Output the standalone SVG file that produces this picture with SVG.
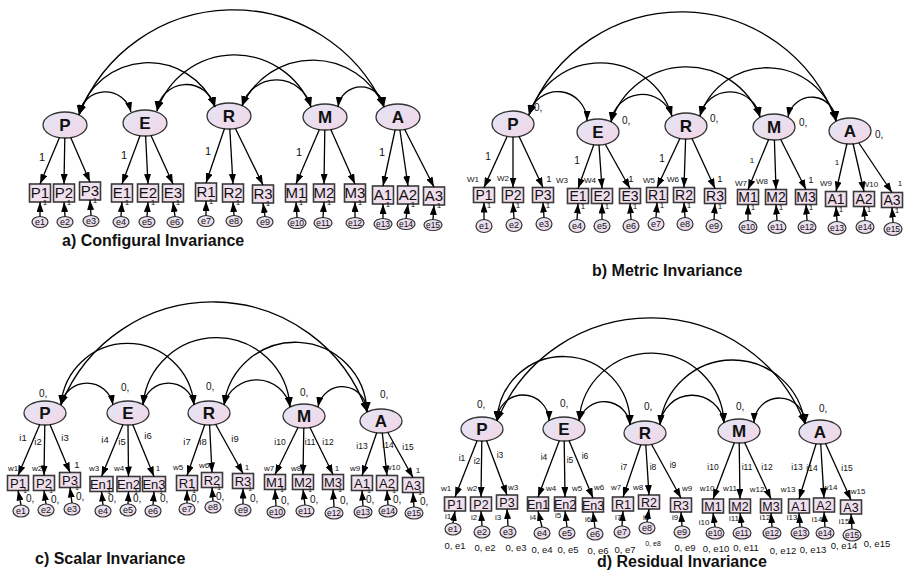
<svg xmlns="http://www.w3.org/2000/svg" width="906" height="570" viewBox="0 0 906 570">
<defs>
<linearGradient id="lg" x1="0" y1="0" x2="1" y2="1"><stop offset="0" stop-color="#e3e6f6"/><stop offset="1" stop-color="#f3d6e6"/></linearGradient>
<linearGradient id="bg" x1="0" y1="0" x2="1" y2="1"><stop offset="0" stop-color="#ebe3f1"/><stop offset="1" stop-color="#f5dcea"/></linearGradient>
<marker id="ah" viewBox="0 0 10 7" refX="10" refY="3.5" markerWidth="10" markerHeight="7" markerUnits="userSpaceOnUse" orient="auto-start-reverse"><path d="M0,0L10,3.5L0,7z" fill="#000"/></marker>
</defs>
<style>
.lat{fill:url(#lg);stroke:#333;stroke-width:1.3}
.box{fill:url(#bg);stroke:#3a3a3a;stroke-width:1.6}
.err{fill:url(#lg);stroke:#333;stroke-width:1.2}
text{font-family:"Liberation Sans",Arial,sans-serif;fill:#111}
.lt{font-size:17px;font-weight:bold;text-anchor:middle}
.ba{font-size:15px;text-anchor:middle}
.bb{font-size:14px;text-anchor:middle}
.bc{font-size:13px;text-anchor:middle}
.bd{font-size:12.5px;text-anchor:middle}
.et{font-size:9px;text-anchor:middle}
.et2{font-size:8.5px;text-anchor:middle}
.s{font-size:8px;text-anchor:middle}
.s7{font-size:7px;text-anchor:middle}
.s6{font-size:6.5px;text-anchor:middle}
.n{font-size:11px;text-anchor:middle}
.n10{font-size:10px;text-anchor:middle}
.i9{font-size:9.5px;text-anchor:middle}
.i8{font-size:8.5px;text-anchor:middle}
.z{font-size:10px}
.oe{font-size:9.5px;text-anchor:middle}
.ttl{font-size:16px;font-weight:bold}
.arc{fill:none;stroke:#000;stroke-width:1.3;marker-start:url(#ah);marker-end:url(#ah)}
.ld{fill:none;stroke:#000;stroke-width:1.3;marker-end:url(#ah)}
</style>

<!-- ================= PANEL A ================= -->
<g id="panel-a">
<g id="a-P"><ellipse class="lat" cx="65" cy="125" rx="22" ry="13"/><text class="lt" x="65" y="131">P</text></g>
<g id="a-E"><ellipse class="lat" cx="145" cy="123" rx="22" ry="13"/><text class="lt" x="145" y="129">E</text></g>
<g id="a-R"><ellipse class="lat" cx="229" cy="116" rx="22" ry="13"/><text class="lt" x="229" y="122">R</text></g>
<g id="a-M"><ellipse class="lat" cx="325" cy="117" rx="22" ry="13"/><text class="lt" x="325" y="123">M</text></g>
<g id="a-A"><ellipse class="lat" cx="398" cy="117" rx="22" ry="13"/><text class="lt" x="398" y="123">A</text></g>

<g id="a-P1"><rect class="box" x="29.5" y="184" width="21" height="18"/><text class="ba" x="40" y="198.4">P1</text></g>
<g id="a-P2"><rect class="box" x="53.5" y="184" width="21" height="18"/><text class="ba" x="64" y="198.4">P2</text></g>
<g id="a-P3"><rect class="box" x="79.5" y="182" width="21" height="18"/><text class="ba" x="90" y="196.4">P3</text></g>
<g id="a-E1"><rect class="box" x="111.5" y="184" width="21" height="18"/><text class="ba" x="122" y="198.4">E1</text></g>
<g id="a-E2"><rect class="box" x="137.5" y="184" width="21" height="18"/><text class="ba" x="148" y="198.4">E2</text></g>
<g id="a-E3"><rect class="box" x="162.5" y="184" width="21" height="18"/><text class="ba" x="173" y="198.4">E3</text></g>
<g id="a-R1"><rect class="box" x="195.5" y="183" width="21" height="18"/><text class="ba" x="206" y="197.4">R1</text></g>
<g id="a-R2"><rect class="box" x="222.5" y="184" width="21" height="18"/><text class="ba" x="233" y="198.4">R2</text></g>
<g id="a-R3"><rect class="box" x="252.5" y="185" width="21" height="18"/><text class="ba" x="263" y="199.4">R3</text></g>
<g id="a-M1"><rect class="box" x="285.5" y="184" width="21" height="18"/><text class="ba" x="296" y="198.4">M1</text></g>
<g id="a-M2"><rect class="box" x="313.5" y="184" width="21" height="18"/><text class="ba" x="324" y="198.4">M2</text></g>
<g id="a-M3"><rect class="box" x="344.5" y="184" width="21" height="18"/><text class="ba" x="355" y="198.4">M3</text></g>
<g id="a-A1"><rect class="box" x="372.5" y="186" width="21" height="18"/><text class="ba" x="383" y="200.4">A1</text></g>
<g id="a-A2"><rect class="box" x="397.5" y="186" width="21" height="18"/><text class="ba" x="408" y="200.4">A2</text></g>
<g id="a-A3"><rect class="box" x="423.5" y="187" width="21" height="18"/><text class="ba" x="434" y="201.4">A3</text></g>

<g id="a-e1"><ellipse class="err" cx="40" cy="222" rx="8" ry="5.5"/><text class="et" x="40" y="225">e1</text></g>
<g id="a-e2"><ellipse class="err" cx="65" cy="222" rx="8" ry="5.5"/><text class="et" x="65" y="225">e2</text></g>
<g id="a-e3"><ellipse class="err" cx="91" cy="221" rx="8" ry="5.5"/><text class="et" x="91" y="224">e3</text></g>
<g id="a-e4"><ellipse class="err" cx="121" cy="222" rx="8" ry="5.5"/><text class="et" x="121" y="225">e4</text></g>
<g id="a-e5"><ellipse class="err" cx="147" cy="222" rx="8" ry="5.5"/><text class="et" x="147" y="225">e5</text></g>
<g id="a-e6"><ellipse class="err" cx="175" cy="222" rx="8" ry="5.5"/><text class="et" x="175" y="225">e6</text></g>
<g id="a-e7"><ellipse class="err" cx="206" cy="221" rx="8" ry="5.5"/><text class="et" x="206" y="224">e7</text></g>
<g id="a-e8"><ellipse class="err" cx="234" cy="221" rx="8" ry="5.5"/><text class="et" x="234" y="224">e8</text></g>
<g id="a-e9"><ellipse class="err" cx="265" cy="222" rx="8" ry="5.5"/><text class="et" x="265" y="225">e9</text></g>
<g id="a-e10"><ellipse class="err" cx="297" cy="223" rx="9" ry="5.5"/><text class="et2" x="297" y="226">e10</text></g>
<g id="a-e11"><ellipse class="err" cx="323" cy="223" rx="9" ry="5.5"/><text class="et2" x="323" y="226">e11</text></g>
<g id="a-e12"><ellipse class="err" cx="355" cy="223" rx="9" ry="5.5"/><text class="et2" x="355" y="226">e12</text></g>
<g id="a-e13"><ellipse class="err" cx="383" cy="224" rx="9" ry="5.5"/><text class="et2" x="383" y="227">e13</text></g>
<g id="a-e14"><ellipse class="err" cx="406" cy="224" rx="9" ry="5.5"/><text class="et2" x="406" y="227">e14</text></g>
<g id="a-e15"><ellipse class="err" cx="433" cy="225" rx="9" ry="5.5"/><text class="et2" x="433" y="228">e15</text></g>
</g>

<!-- ================= PANEL B ================= -->
<g id="panel-b">
<g id="b-P"><ellipse class="lat" cx="513" cy="124" rx="21" ry="13"/><text class="lt" x="513" y="130">P</text></g>
<g id="b-E"><ellipse class="lat" cx="598" cy="132" rx="21" ry="13"/><text class="lt" x="598" y="138">E</text></g>
<g id="b-R"><ellipse class="lat" cx="686" cy="126" rx="21" ry="13"/><text class="lt" x="686" y="132">R</text></g>
<g id="b-M"><ellipse class="lat" cx="774" cy="127" rx="21" ry="13"/><text class="lt" x="774" y="133">M</text></g>
<g id="b-A"><ellipse class="lat" cx="850" cy="131" rx="21" ry="13"/><text class="lt" x="850" y="137">A</text></g>

<g id="b-P1"><rect class="box" x="473.5" y="187.5" width="21" height="15"/><text class="bb" x="484" y="200">P1</text></g>
<g id="b-P2"><rect class="box" x="502.5" y="187.5" width="21" height="15"/><text class="bb" x="513" y="200">P2</text></g>
<g id="b-P3"><rect class="box" x="532.5" y="187.5" width="21" height="15"/><text class="bb" x="543" y="200">P3</text></g>
<g id="b-E1"><rect class="box" x="567.5" y="188.5" width="21" height="15"/><text class="bb" x="578" y="201">E1</text></g>
<g id="b-E2"><rect class="box" x="591.5" y="188.5" width="21" height="15"/><text class="bb" x="602" y="201">E2</text></g>
<g id="b-E3"><rect class="box" x="619.5" y="188.5" width="21" height="15"/><text class="bb" x="630" y="201">E3</text></g>
<g id="b-R1"><rect class="box" x="646.5" y="187.5" width="21" height="15"/><text class="bb" x="657" y="200">R1</text></g>
<g id="b-R2"><rect class="box" x="673.5" y="187.5" width="21" height="15"/><text class="bb" x="684" y="200">R2</text></g>
<g id="b-R3"><rect class="box" x="704.5" y="188.5" width="21" height="15"/><text class="bb" x="715" y="201">R3</text></g>
<g id="b-M1"><rect class="box" x="737.5" y="189.5" width="21" height="15"/><text class="bb" x="748" y="202">M1</text></g>
<g id="b-M2"><rect class="box" x="765.5" y="189.5" width="21" height="15"/><text class="bb" x="776" y="202">M2</text></g>
<g id="b-M3"><rect class="box" x="795.5" y="189.5" width="21" height="15"/><text class="bb" x="806" y="202">M3</text></g>
<g id="b-A1"><rect class="box" x="825.5" y="191.5" width="21" height="15"/><text class="bb" x="836" y="204">A1</text></g>
<g id="b-A2"><rect class="box" x="853.5" y="191.5" width="21" height="15"/><text class="bb" x="864" y="204">A2</text></g>
<g id="b-A3"><rect class="box" x="881.5" y="192.5" width="21" height="15"/><text class="bb" x="892" y="205">A3</text></g>

<g id="b-e1"><ellipse class="err" cx="484" cy="226" rx="8" ry="6.5"/><text class="et" x="484" y="229">e1</text></g>
<g id="b-e2"><ellipse class="err" cx="514" cy="225" rx="8" ry="6.5"/><text class="et" x="514" y="228">e2</text></g>
<g id="b-e3"><ellipse class="err" cx="544" cy="224" rx="8" ry="6.5"/><text class="et" x="544" y="227">e3</text></g>
<g id="b-e4"><ellipse class="err" cx="577" cy="226" rx="8" ry="6.5"/><text class="et" x="577" y="229">e4</text></g>
<g id="b-e5"><ellipse class="err" cx="602" cy="226" rx="8" ry="6.5"/><text class="et" x="602" y="229">e5</text></g>
<g id="b-e6"><ellipse class="err" cx="631" cy="226" rx="8" ry="6.5"/><text class="et" x="631" y="229">e6</text></g>
<g id="b-e7"><ellipse class="err" cx="656" cy="224" rx="8" ry="6.5"/><text class="et" x="656" y="227">e7</text></g>
<g id="b-e8"><ellipse class="err" cx="685" cy="224" rx="8" ry="6.5"/><text class="et" x="685" y="227">e8</text></g>
<g id="b-e9"><ellipse class="err" cx="714" cy="226" rx="8" ry="6.5"/><text class="et" x="714" y="229">e9</text></g>
<g id="b-e10"><ellipse class="err" cx="748" cy="227" rx="9" ry="6.5"/><text class="et2" x="748" y="230">e10</text></g>
<g id="b-e11"><ellipse class="err" cx="777" cy="227" rx="9" ry="6.5"/><text class="et2" x="777" y="230">e11</text></g>
<g id="b-e12"><ellipse class="err" cx="807" cy="227" rx="9" ry="6.5"/><text class="et2" x="807" y="230">e12</text></g>
<g id="b-e13"><ellipse class="err" cx="837" cy="228" rx="9" ry="6.5"/><text class="et2" x="837" y="231">e13</text></g>
<g id="b-e14"><ellipse class="err" cx="865" cy="227" rx="9" ry="6.5"/><text class="et2" x="865" y="230">e14</text></g>
<g id="b-e15"><ellipse class="err" cx="893" cy="229" rx="9" ry="6.5"/><text class="et2" x="893" y="232">e15</text></g>
</g>

<!-- ================= PANEL C ================= -->
<g id="panel-c">
<g id="c-P"><ellipse class="lat" cx="45" cy="413" rx="21" ry="12"/><text class="lt" x="45" y="419">P</text></g>
<g id="c-E"><ellipse class="lat" cx="128" cy="413" rx="21" ry="12"/><text class="lt" x="128" y="419">E</text></g>
<g id="c-R"><ellipse class="lat" cx="209" cy="413" rx="21" ry="12"/><text class="lt" x="209" y="419">R</text></g>
<g id="c-M"><ellipse class="lat" cx="304" cy="416" rx="21" ry="12"/><text class="lt" x="304" y="422">M</text></g>
<g id="c-A"><ellipse class="lat" cx="381" cy="421" rx="21" ry="12"/><text class="lt" x="381" y="427">A</text></g>

<g id="c-P1"><rect class="box" x="7.5" y="475.5" width="21" height="15"/><text class="bc" x="18" y="487.7">P1</text></g>
<g id="c-P2"><rect class="box" x="33.5" y="475.5" width="21" height="15"/><text class="bc" x="44" y="487.7">P2</text></g>
<g id="c-P3"><rect class="box" x="59.5" y="472.5" width="21" height="15"/><text class="bc" x="70" y="484.7">P3</text></g>
<g id="c-En1"><rect class="box" x="90" y="476.5" width="23" height="15"/><text class="bc" x="101.5" y="488.7">En1</text></g>
<g id="c-En2"><rect class="box" x="117" y="476.5" width="23" height="15"/><text class="bc" x="128.5" y="488.7">En2</text></g>
<g id="c-En3"><rect class="box" x="142.5" y="476.5" width="23" height="15"/><text class="bc" x="154" y="488.7">En3</text></g>
<g id="c-R1"><rect class="box" x="176.5" y="475.5" width="21" height="15"/><text class="bc" x="187" y="487.7">R1</text></g>
<g id="c-R2"><rect class="box" x="201.5" y="472.5" width="21" height="15"/><text class="bc" x="212" y="484.7">R2</text></g>
<g id="c-R3"><rect class="box" x="232.5" y="473.5" width="21" height="15"/><text class="bc" x="243" y="485.7">R3</text></g>
<g id="c-M1"><rect class="box" x="264.5" y="474.5" width="21" height="15"/><text class="bc" x="275" y="486.7">M1</text></g>
<g id="c-M2"><rect class="box" x="292.5" y="474.5" width="21" height="15"/><text class="bc" x="303" y="486.7">M2</text></g>
<g id="c-M3"><rect class="box" x="322.5" y="474.5" width="21" height="15"/><text class="bc" x="333" y="486.7">M3</text></g>
<g id="c-A1"><rect class="box" x="351.5" y="475.5" width="21" height="15"/><text class="bc" x="362" y="487.7">A1</text></g>
<g id="c-A2"><rect class="box" x="376.5" y="475.5" width="21" height="15"/><text class="bc" x="387" y="487.7">A2</text></g>
<g id="c-A3"><rect class="box" x="402.5" y="477.5" width="21" height="15"/><text class="bc" x="413" y="489.7">A3</text></g>

<g id="c-e1"><ellipse class="err" cx="21" cy="511" rx="8" ry="6"/><text class="et" x="21" y="514">e1</text></g>
<g id="c-e2"><ellipse class="err" cx="46" cy="510" rx="8" ry="6"/><text class="et" x="46" y="513">e2</text></g>
<g id="c-e3"><ellipse class="err" cx="72" cy="509" rx="8" ry="6"/><text class="et" x="72" y="512">e3</text></g>
<g id="c-e4"><ellipse class="err" cx="103" cy="511" rx="8" ry="6"/><text class="et" x="103" y="514">e4</text></g>
<g id="c-e5"><ellipse class="err" cx="128" cy="510" rx="8" ry="6"/><text class="et" x="128" y="513">e5</text></g>
<g id="c-e6"><ellipse class="err" cx="153" cy="511" rx="8" ry="6"/><text class="et" x="153" y="514">e6</text></g>
<g id="c-e7"><ellipse class="err" cx="187" cy="509" rx="8" ry="6"/><text class="et" x="187" y="512">e7</text></g>
<g id="c-e8"><ellipse class="err" cx="213" cy="507" rx="8" ry="6"/><text class="et" x="213" y="510">e8</text></g>
<g id="c-e9"><ellipse class="err" cx="243" cy="510" rx="8" ry="6"/><text class="et" x="243" y="513">e9</text></g>
<g id="c-e10"><ellipse class="err" cx="276" cy="512" rx="9" ry="6"/><text class="et2" x="276" y="515">e10</text></g>
<g id="c-e11"><ellipse class="err" cx="305" cy="511" rx="9" ry="6"/><text class="et2" x="305" y="514">e11</text></g>
<g id="c-e12"><ellipse class="err" cx="334" cy="513" rx="9" ry="6"/><text class="et2" x="334" y="516">e12</text></g>
<g id="c-e13"><ellipse class="err" cx="363" cy="512" rx="9" ry="6"/><text class="et2" x="363" y="515">e13</text></g>
<g id="c-e14"><ellipse class="err" cx="388" cy="511" rx="9" ry="6"/><text class="et2" x="388" y="514">e14</text></g>
<g id="c-e15"><ellipse class="err" cx="414" cy="513" rx="9" ry="6"/><text class="et2" x="414" y="516">e15</text></g>
</g>

<!-- ================= PANEL D ================= -->
<g id="panel-d">
<g id="d-P"><ellipse class="lat" cx="482" cy="429" rx="21" ry="12"/><text class="lt" x="482" y="435">P</text></g>
<g id="d-E"><ellipse class="lat" cx="564" cy="429" rx="21" ry="12"/><text class="lt" x="564" y="435">E</text></g>
<g id="d-R"><ellipse class="lat" cx="645" cy="433" rx="21" ry="12"/><text class="lt" x="645" y="439">R</text></g>
<g id="d-M"><ellipse class="lat" cx="739" cy="431" rx="21" ry="12"/><text class="lt" x="739" y="437">M</text></g>
<g id="d-A"><ellipse class="lat" cx="820" cy="432" rx="21" ry="12"/><text class="lt" x="820" y="438">A</text></g>

<g id="d-P1"><rect class="box" x="444.5" y="497" width="21" height="14"/><text class="bd" x="455" y="508.5">P1</text></g>
<g id="d-P2"><rect class="box" x="470.5" y="497" width="21" height="14"/><text class="bd" x="481" y="508.5">P2</text></g>
<g id="d-P3"><rect class="box" x="496.5" y="495" width="21" height="14"/><text class="bd" x="507" y="506.5">P3</text></g>
<g id="d-En1"><rect class="box" x="527.5" y="497" width="21" height="14"/><text class="bd" x="538" y="508.5">En1</text></g>
<g id="d-En2"><rect class="box" x="554.5" y="497" width="21" height="14"/><text class="bd" x="565" y="508.5">En2</text></g>
<g id="d-En3"><rect class="box" x="582.5" y="498" width="21" height="14"/><text class="bd" x="593" y="509.5">En3</text></g>
<g id="d-R1"><rect class="box" x="612.5" y="497" width="21" height="14"/><text class="bd" x="623" y="508.5">R1</text></g>
<g id="d-R2"><rect class="box" x="638.5" y="495" width="21" height="14"/><text class="bd" x="649" y="506.5">R2</text></g>
<g id="d-R3"><rect class="box" x="670.5" y="498" width="21" height="14"/><text class="bd" x="681" y="509.5">R3</text></g>
<g id="d-M1"><rect class="box" x="702.5" y="499" width="21" height="14"/><text class="bd" x="713" y="510.5">M1</text></g>
<g id="d-M2"><rect class="box" x="729.5" y="499" width="21" height="14"/><text class="bd" x="740" y="510.5">M2</text></g>
<g id="d-M3"><rect class="box" x="760.5" y="499" width="21" height="14"/><text class="bd" x="771" y="510.5">M3</text></g>
<g id="d-A1"><rect class="box" x="788.5" y="499" width="21" height="14"/><text class="bd" x="799" y="510.5">A1</text></g>
<g id="d-A2"><rect class="box" x="813.5" y="498" width="21" height="14"/><text class="bd" x="824" y="509.5">A2</text></g>
<g id="d-A3"><rect class="box" x="840.5" y="500" width="21" height="14"/><text class="bd" x="851" y="511.5">A3</text></g>

<g id="d-e1"><ellipse class="err" cx="453" cy="529" rx="8" ry="6"/><text class="et" x="453" y="532">e1</text></g>
<g id="d-e2"><ellipse class="err" cx="482" cy="532" rx="8" ry="6"/><text class="et" x="482" y="535">e2</text></g>
<g id="d-e3"><ellipse class="err" cx="508" cy="532" rx="8" ry="6"/><text class="et" x="508" y="535">e3</text></g>
<g id="d-e4"><ellipse class="err" cx="542" cy="533" rx="8" ry="6"/><text class="et" x="542" y="536">e4</text></g>
<g id="d-e5"><ellipse class="err" cx="567" cy="533" rx="8" ry="6"/><text class="et" x="567" y="536">e5</text></g>
<g id="d-e6"><ellipse class="err" cx="595" cy="534" rx="8" ry="6"/><text class="et" x="595" y="537">e6</text></g>
<g id="d-e7"><ellipse class="err" cx="622" cy="532" rx="8" ry="6"/><text class="et" x="622" y="535">e7</text></g>
<g id="d-e8"><ellipse class="err" cx="647" cy="528" rx="8" ry="6"/><text class="et" x="647" y="531">e8</text></g>
<g id="d-e9"><ellipse class="err" cx="682" cy="532" rx="8" ry="6"/><text class="et" x="682" y="535">e9</text></g>
<g id="d-e10"><ellipse class="err" cx="715" cy="533" rx="9" ry="6"/><text class="et2" x="715" y="536">e10</text></g>
<g id="d-e11"><ellipse class="err" cx="742" cy="533" rx="9" ry="6"/><text class="et2" x="742" y="536">e11</text></g>
<g id="d-e12"><ellipse class="err" cx="772" cy="533" rx="9" ry="6"/><text class="et2" x="772" y="536">e12</text></g>
<g id="d-e13"><ellipse class="err" cx="800" cy="533" rx="9" ry="6"/><text class="et2" x="800" y="536">e13</text></g>
<g id="d-e14"><ellipse class="err" cx="825" cy="533" rx="9" ry="6"/><text class="et2" x="825" y="536">e14</text></g>
<g id="d-e15"><ellipse class="err" cx="852" cy="535" rx="9" ry="6"/><text class="et2" x="852" y="538">e15</text></g>
</g>

<!-- ================= CONNECTORS ================= -->
<g id="connectors">
<path class="arc" d="M79,115A165.6,165.6 0 0 1 384,107"/>
<path class="arc" d="M79,115A72.2,72.2 0 0 1 215,107"/>
<path class="arc" d="M157,111A81.9,81.9 0 0 1 311,107"/>
<path class="arc" d="M242,106A77.5,77.5 0 0 1 384,107"/>
<path class="arc" d="M79,115A26.5,26.5 0 0 1 131,112"/>
<path class="arc" d="M157,111A29.5,29.5 0 0 1 215,107"/>
<path class="arc" d="M242,106A35.7,35.7 0 0 1 311,107"/>
<path class="arc" d="M338,107A23.2,23.2 0 0 1 384,107"/>
<path class="ld" d="M59.5,137.5L40,184"/>
<path class="ld" d="M64.8,138L64,184"/>
<path class="ld" d="M70.7,137.5L90,182"/>
<path class="ld" d="M140.1,135.5L122,184"/>
<path class="ld" d="M145.6,136L148,184"/>
<path class="ld" d="M151,135.5L173,184"/>
<path class="ld" d="M224.5,128.5L206,183"/>
<path class="ld" d="M229.8,129L233,184"/>
<path class="ld" d="M235.4,128.5L263,185"/>
<path class="ld" d="M319.4,129.5L296,184"/>
<path class="ld" d="M324.8,130L324,184"/>
<path class="ld" d="M330.8,129.5L355,184"/>
<path class="ld" d="M395.2,129.5L383,186"/>
<path class="ld" d="M399.9,130L408,186"/>
<path class="ld" d="M404.7,129.5L434,187"/>
<path class="ld" d="M40,216.5L40,202"/>
<path class="ld" d="M65,216.5L64,202"/>
<path class="ld" d="M91,215.5L90,200"/>
<path class="ld" d="M121,216.5L122,202"/>
<path class="ld" d="M147,216.5L148,202"/>
<path class="ld" d="M175,216.5L173,202"/>
<path class="ld" d="M206,215.5L206,201"/>
<path class="ld" d="M234,215.5L233,202"/>
<path class="ld" d="M265,216.5L263,203"/>
<path class="ld" d="M297,217.5L296,202"/>
<path class="ld" d="M323,217.5L324,202"/>
<path class="ld" d="M355,217.5L355,202"/>
<path class="ld" d="M383,218.5L383,204"/>
<path class="ld" d="M406,218.5L408,204"/>
<path class="ld" d="M433,219.5L434,205"/>

<path class="arc" d="M529,115A164.1,164.1 0 0 1 836,121"/>
<path class="arc" d="M529,115A74.9,74.9 0 0 1 672,116"/>
<path class="arc" d="M611,122A79.1,79.1 0 0 1 760,117"/>
<path class="arc" d="M700,116A71,71 0 0 1 836,121"/>
<path class="arc" d="M529,115A29.3,29.3 0 0 1 587,121"/>
<path class="arc" d="M611,122A31.4,31.4 0 0 1 672,116"/>
<path class="arc" d="M700,116A30.6,30.6 0 0 1 760,117"/>
<path class="arc" d="M788,117A24.2,24.2 0 0 1 836,121"/>
<path class="ld" d="M507.1,136.5L484,187.5"/>
<path class="ld" d="M513,137L513,187.5"/>
<path class="ld" d="M519.1,136.5L543,187.5"/>
<path class="ld" d="M593.9,144.5L578,188.5"/>
<path class="ld" d="M599,145L602,188.5"/>
<path class="ld" d="M605.4,144.5L630,188.5"/>
<path class="ld" d="M679.9,138.5L657,187.5"/>
<path class="ld" d="M685.6,139L684,187.5"/>
<path class="ld" d="M692,138.5L715,188.5"/>
<path class="ld" d="M768.6,139.5L748,189.5"/>
<path class="ld" d="M774.4,140L776,189.5"/>
<path class="ld" d="M780.7,139.5L806,189.5"/>
<path class="ld" d="M847,143.5L836,191.5"/>
<path class="ld" d="M853,143.5L864,191.5"/>
<path class="ld" d="M858.9,143L892,192.5"/>
<path class="ld" d="M484,219.5L484,202.5"/>
<path class="ld" d="M514,218.5L513,202.5"/>
<path class="ld" d="M544,217.5L543,202.5"/>
<path class="ld" d="M577,219.5L578,203.5"/>
<path class="ld" d="M602,219.5L602,203.5"/>
<path class="ld" d="M631,219.5L630,203.5"/>
<path class="ld" d="M656,217.5L657,202.5"/>
<path class="ld" d="M685,217.5L684,202.5"/>
<path class="ld" d="M714,219.5L715,203.5"/>
<path class="ld" d="M748,220.5L748,204.5"/>
<path class="ld" d="M777,220.5L776,204.5"/>
<path class="ld" d="M807,220.5L806,204.5"/>
<path class="ld" d="M837,221.5L836,206.5"/>
<path class="ld" d="M865,220.5L864,206.5"/>
<path class="ld" d="M893,222.5L892,207.5"/>

<path class="arc" d="M61,405A163.2,163.2 0 0 1 367,412"/>
<path class="arc" d="M61,405A66.7,66.7 0 0 1 194,405"/>
<path class="arc" d="M143,405A73.7,73.7 0 0 1 290,407"/>
<path class="arc" d="M224,405A71.8,71.8 0 0 1 367,412"/>
<path class="arc" d="M61,405A26.4,26.4 0 0 1 113,405"/>
<path class="arc" d="M143,405A25.8,25.8 0 0 1 194,405"/>
<path class="arc" d="M224,405A33.9,33.9 0 0 1 290,407"/>
<path class="arc" d="M318,407A24.7,24.7 0 0 1 367,412"/>
<path class="ld" d="M39.8,424.5L18,475.5"/>
<path class="ld" d="M44.8,425L44,475.5"/>
<path class="ld" d="M50,424.5L70,472.5"/>
<path class="ld" d="M123,424.5L101.5,476.5"/>
<path class="ld" d="M128,425L128.5,476.5"/>
<path class="ld" d="M132.7,424.5L154,476.5"/>
<path class="ld" d="M204.8,424.5L187,475.5"/>
<path class="ld" d="M209.6,425L212,472.5"/>
<path class="ld" d="M215.7,424.5L243,473.5"/>
<path class="ld" d="M298,427.5L275,474.5"/>
<path class="ld" d="M303.8,428L303,474.5"/>
<path class="ld" d="M310,427.5L333,474.5"/>
<path class="ld" d="M376.8,432.5L362,475.5"/>
<path class="ld" d="M382.3,433L387,475.5"/>
<path class="ld" d="M387.8,432.5L413,477.5"/>
<path class="ld" d="M21,505L18,490.5"/>
<path class="ld" d="M46,504L44,490.5"/>
<path class="ld" d="M72,503L70,487.5"/>
<path class="ld" d="M103,505L101.5,491.5"/>
<path class="ld" d="M128,504L128.5,491.5"/>
<path class="ld" d="M153,505L154,491.5"/>
<path class="ld" d="M187,503L187,490.5"/>
<path class="ld" d="M213,501L212,487.5"/>
<path class="ld" d="M243,504L243,488.5"/>
<path class="ld" d="M276,506L275,489.5"/>
<path class="ld" d="M305,505L303,489.5"/>
<path class="ld" d="M334,507L333,489.5"/>
<path class="ld" d="M363,506L362,490.5"/>
<path class="ld" d="M388,505L387,490.5"/>
<path class="ld" d="M414,507L413,492.5"/>

<path class="arc" d="M497,421A165.7,165.7 0 0 1 805,424"/>
<path class="arc" d="M497,421A66.5,66.5 0 0 1 630,425"/>
<path class="arc" d="M579,421A72.6,72.6 0 0 1 724,423"/>
<path class="arc" d="M660,425A73,73 0 0 1 805,424"/>
<path class="arc" d="M497,421A26,26 0 0 1 549,421"/>
<path class="arc" d="M579,421A26,26 0 0 1 630,425"/>
<path class="arc" d="M660,425A32.2,32.2 0 0 1 724,423"/>
<path class="arc" d="M754,423A25.5,25.5 0 0 1 805,424"/>
<path class="ld" d="M477.2,440.5L455,497"/>
<path class="ld" d="M481.8,441L481,497"/>
<path class="ld" d="M486.5,440.5L507,495"/>
<path class="ld" d="M559.4,440.5L538,497"/>
<path class="ld" d="M564.2,441L565,497"/>
<path class="ld" d="M569,440.5L593,498"/>
<path class="ld" d="M640.9,444.5L623,497"/>
<path class="ld" d="M645.8,445L649,495"/>
<path class="ld" d="M651.6,444.5L681,498"/>
<path class="ld" d="M734.4,442.5L713,499"/>
<path class="ld" d="M739.2,443L740,499"/>
<path class="ld" d="M744.6,442.5L771,499"/>
<path class="ld" d="M816.2,443.5L799,499"/>
<path class="ld" d="M820.7,444L824,498"/>
<path class="ld" d="M825.5,443.5L851,500"/>
<path class="ld" d="M453,523L455,511"/>
<path class="ld" d="M482,526L481,511"/>
<path class="ld" d="M508,526L507,509"/>
<path class="ld" d="M542,527L538,511"/>
<path class="ld" d="M567,527L565,511"/>
<path class="ld" d="M595,528L593,512"/>
<path class="ld" d="M622,526L623,511"/>
<path class="ld" d="M647,522L649,509"/>
<path class="ld" d="M682,526L681,512"/>
<path class="ld" d="M715,527L713,513"/>
<path class="ld" d="M742,527L740,513"/>
<path class="ld" d="M772,527L771,513"/>
<path class="ld" d="M800,527L799,513"/>
<path class="ld" d="M825,527L824,512"/>
<path class="ld" d="M852,529L851,514"/>
</g>

<!-- ================= LABELS ================= -->
<g id="labels-a">
<text class="n" x="42" y="161">1</text><text class="n" x="124" y="159">1</text><text class="n" x="208" y="155">1</text><text class="n" x="299" y="156">1</text><text class="n" x="382" y="156">1</text>
<text class="s" x="45" y="205">1</text><text class="s" x="69" y="205">1</text><text class="s" x="95" y="203">1</text>
<text class="s" x="127" y="205">1</text><text class="s" x="153" y="205">1</text><text class="s" x="178" y="205">1</text>
<text class="s" x="211" y="204">1</text><text class="s" x="238" y="205">1</text><text class="s" x="268" y="206">1</text>
<text class="s" x="301" y="205">1</text><text class="s" x="329" y="205">1</text><text class="s" x="360" y="205">1</text>
<text class="s" x="388" y="207">1</text><text class="s" x="413" y="207">1</text><text class="s" x="439" y="208">1</text>
<text class="ttl" x="62" y="246">a) Configural Invariance</text>
</g>

<g id="labels-b">
<text class="z" x="534" y="111">0,</text><text class="z" x="622" y="124">0,</text><text class="z" x="710" y="122">0,</text><text class="z" x="799" y="126">0,</text><text class="z" x="875" y="138">0,</text>
<text class="n10" x="488" y="160">1</text><text class="n10" x="577" y="164">1</text><text class="n10" x="662" y="162">1</text><text class="s" x="752" y="163">1</text><text class="s" x="837" y="165">1</text>
<text class="s" x="473" y="182">W1</text><text class="s" x="503" y="181">W2</text><text class="i9" x="549" y="182">1</text>
<text class="s" x="562" y="183">W3</text><text class="s" x="590" y="183">W4</text><text class="i9" x="631" y="182">1</text>
<text class="s" x="649" y="183">W5</text><text class="s" x="673" y="182">W6</text><text class="i9" x="720" y="182">1</text>
<text class="s" x="741" y="186">W7</text><text class="s" x="762" y="184">W8</text><text class="i9" x="811" y="183">1</text>
<text class="s" x="826" y="186">W9</text><text class="s" x="870" y="187">W10</text><text class="s" x="900" y="186">1</text>
<text class="s" x="489" y="207.5">1</text><text class="s" x="518" y="207.5">1</text><text class="s" x="548" y="207.5">1</text>
<text class="s" x="583" y="208.5">1</text><text class="s" x="607" y="208.5">1</text><text class="s" x="635" y="208.5">1</text>
<text class="s" x="662" y="207.5">1</text><text class="s" x="689" y="207.5">1</text><text class="s" x="720" y="208.5">1</text>
<text class="s" x="753" y="209.5">1</text><text class="s" x="781" y="209.5">1</text><text class="s" x="811" y="209.5">1</text>
<text class="s" x="841" y="211.5">1</text><text class="s" x="869" y="211.5">1</text><text class="s" x="897" y="212.5">1</text>
<text class="ttl" x="592" y="276">b) Metric Invariance</text>
</g>

<g id="labels-c">
<text class="z" x="39" y="397">0,</text><text class="z" x="121" y="391">0,</text><text class="z" x="206" y="390">0,</text><text class="z" x="300" y="396">0,</text><text class="z" x="380" y="398">0,</text>
<text class="i9" x="23" y="441">i1</text><text class="i9" x="38" y="445">i2</text><text class="i9" x="65" y="441">i3</text>
<text class="i9" x="105" y="443">i4</text><text class="i9" x="122" y="445">i5</text><text class="i9" x="148" y="439">i6</text>
<text class="i9" x="187" y="445">i7</text><text class="i9" x="203" y="445">i8</text><text class="i9" x="235" y="442">i9</text>
<text class="i8" x="280" y="445">i10</text><text class="i8" x="310" y="445">i11</text><text class="i8" x="328" y="445">i12</text>
<text class="i8" x="362" y="449">i13</text><text class="i8" x="388" y="448">i14</text><text class="i8" x="408" y="450">i15</text>
<text class="s" x="13" y="471">w1</text><text class="s" x="37" y="471">w2</text><text class="i9" x="77" y="468">1</text>
<text class="s" x="94" y="471">w3</text><text class="s" x="119" y="471">w4</text><text class="s" x="158" y="471">1</text>
<text class="s" x="178" y="470">w5</text><text class="s" x="204" y="468">w6</text><text class="s" x="247" y="470">1</text>
<text class="s" x="269" y="471">w7</text><text class="s" x="296" y="471">w8</text><text class="s" x="337" y="471">1</text>
<text class="s" x="355" y="471">w9</text><text class="s" x="393" y="470">w10</text><text class="s" x="418" y="473">1</text>
<text class="s6" x="25" y="493">1</text><text class="s6" x="51" y="493">1</text><text class="s6" x="77" y="490">1</text>
<text class="s6" x="109" y="494">1</text><text class="s6" x="136" y="494">1</text><text class="s6" x="161" y="494">1</text>
<text class="s6" x="194" y="493">1</text><text class="s6" x="219" y="490">1</text><text class="s6" x="250" y="491">1</text>
<text class="s6" x="282" y="492">1</text><text class="s6" x="310" y="492">1</text><text class="s6" x="340" y="492">1</text>
<text class="s6" x="369" y="493">1</text><text class="s6" x="394" y="493">1</text><text class="s6" x="420" y="495">1</text>
<text class="z" x="26" y="502">0,</text><text class="z" x="51" y="503">0,</text><text class="z" x="76" y="500">0,</text>
<text class="z" x="108" y="502">0,</text><text class="z" x="133" y="502">0,</text><text class="z" x="160" y="502">0,</text>
<text class="z" x="191" y="502">0,</text><text class="z" x="216" y="500">0,</text><text class="z" x="250" y="502">0,</text>
<text class="z" x="281" y="504">0,</text><text class="z" x="310" y="503">0,</text><text class="z" x="340" y="504">0,</text>
<text class="z" x="366" y="503">0,</text><text class="z" x="393" y="503">0,</text><text class="z" x="420" y="505">0,</text>
<text class="ttl" x="35" y="564">c) Scalar Invariance</text>
</g>

<g id="labels-d">
<text class="z" x="477" y="408">0,</text><text class="z" x="560" y="407">0,</text><text class="z" x="644" y="410">0,</text><text class="z" x="736" y="410">0,</text><text class="z" x="819" y="412">0,</text>
<text class="i8" x="462" y="461">i1</text><text class="i8" x="477" y="464">i2</text><text class="i8" x="500" y="458">i3</text>
<text class="i8" x="544" y="460">i4</text><text class="i8" x="570" y="463">i5</text><text class="i8" x="585" y="459">i6</text>
<text class="i8" x="624" y="470">i7</text><text class="i8" x="653" y="470">i8</text><text class="i8" x="673" y="468">i9</text>
<text class="i8" x="713" y="470">i10</text><text class="i8" x="747" y="470">i11</text><text class="i8" x="767" y="470">i12</text>
<text class="i8" x="797" y="470">i13</text><text class="i8" x="812" y="471">i14</text><text class="i8" x="847" y="471">i15</text>
<text class="s" x="446" y="491">w1</text><text class="s" x="472" y="491">w2</text><text class="s" x="513" y="490">w3</text>
<text class="s" x="551" y="491">w4</text><text class="s" x="577" y="491">w5</text><text class="s" x="599" y="490">w6</text>
<text class="s" x="616" y="490">w7</text><text class="s" x="638" y="490">w8</text><text class="s" x="687" y="491">w9</text>
<text class="s" x="707" y="491">w10</text><text class="s" x="730" y="491">w11</text><text class="s" x="757" y="492">w12</text>
<text class="s" x="788" y="492">w13</text><text class="s" x="830" y="490">w14</text><text class="s" x="858" y="494">w15</text>
<text class="s" x="448" y="519">i1</text><text class="s" x="474" y="520">i2</text><text class="s" x="498" y="520">i3</text>
<text class="s" x="533" y="520">i4</text><text class="s" x="558" y="518">i5</text><text class="s" x="588" y="522">i6</text>
<text class="s" x="618" y="520">i7</text><text class="s" x="646" y="520">i8</text><text class="s" x="675" y="520">i9</text>
<text class="s" x="704" y="525">i10</text><text class="s" x="734" y="521">i11</text><text class="s" x="765" y="520">i12</text>
<text class="s" x="792" y="520">i13</text><text class="s" x="817" y="522">i14</text><text class="s" x="844" y="524">i15</text>
<text class="oe" x="455" y="549">0, e1</text><text class="oe" x="485" y="551">0, e2</text><text class="oe" x="516" y="551">0, e3</text>
<text class="oe" x="542" y="553">0, e4</text><text class="oe" x="568" y="553">0, e5</text><text class="oe" x="598" y="554">0, e6</text>
<text class="oe" x="625" y="553">0, e7</text><text class="s7" x="653" y="546">0, e8</text><text class="oe" x="685" y="551">0, e9</text>
<text class="oe" x="716" y="552">0, e10</text><text class="oe" x="746" y="551">0, e11</text><text class="oe" x="783" y="554">0, e12</text>
<text class="oe" x="813" y="553">0, e13</text><text class="oe" x="844" y="549">0, e14</text><text class="oe" x="877" y="547">0, e15</text>
<text class="ttl" x="597" y="567">d) Residual Invariance</text>
</g>
</svg>
